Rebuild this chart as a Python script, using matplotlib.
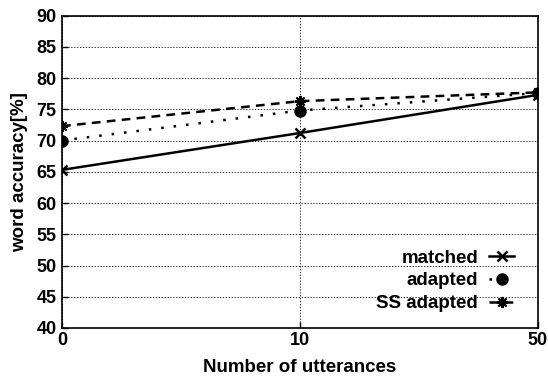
import matplotlib
matplotlib.use("Agg")
import matplotlib.pyplot as plt

plt.rcParams['font.family'] = ['Liberation Sans', 'DejaVu Sans']
plt.rcParams['font.weight'] = 'bold'

# word accuracy for each number of adaptation utterances
utterances = ['0', '10', '50']
matched = [65.3, 71.2, 77.3]
adapted = [70.0, 74.8, 77.6]
ss_adapted = [72.3, 76.3, 77.7]

xs = list(range(len(utterances)))

fig = plt.figure(figsize=(5.48, 3.76), dpi=100)
ax = fig.add_axes([62/548, 1-328/376, 476/548, 312.5/376])

ax.plot(xs, matched, color='black', lw=1.8, ls='-', marker='x', ms=7, mew=1.8,
        label='matched')
ax.plot(xs, adapted, color='black', lw=1.8, ls=(0, (1, 4)), marker='o', ms=8,
        label='adapted')
ax.plot(xs, ss_adapted, color='black', lw=1.8, ls=(0, (3.5, 2.5)), marker=(8, 2, 0), ms=8,
        mew=1.5, label='SS adapted')

ax.set_xlim(0, 2)
ax.set_ylim(40, 90)
ax.set_xticks(xs)
ax.set_xticklabels(utterances)
ax.set_yticks(range(40, 91, 5))
ax.tick_params(direction='in', length=4, labelsize=13, width=1)
ax.tick_params(axis='y', pad=4)
ax.tick_params(axis='x', pad=3)
ax.grid(True, color='black', ls=(0, (1.5, 2)), lw=0.6)
for s in ax.spines.values():
    s.set_linewidth(1.2)

ax.set_xlabel('Number of utterances', fontsize=13.5, fontweight='bold', labelpad=7)
ax.set_ylabel('word accuracy[%]', fontsize=13.5, fontweight='bold', labelpad=6)

leg = ax.legend(loc='lower right', frameon=False, fontsize=13.5, markerfirst=False,
                handlelength=1.3, handletextpad=0.6, labelspacing=0.3,
                bbox_to_anchor=(0.965, 0.027), borderaxespad=0)
for t in leg.get_texts():
    t.set_fontweight('bold')

fig.savefig('out.png', dpi=100)
